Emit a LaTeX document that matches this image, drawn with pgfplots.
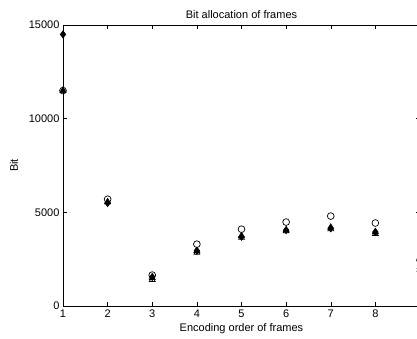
\documentclass[border=0pt]{standalone}
\usepackage{pgfplots}
\pgfplotsset{compat=1.18}
\usepackage{fontspec}
\setmainfont{Liberation Sans}
\usetikzlibrary{calc}
\begin{document}
\begin{tikzpicture}[font=\fontsize{11}{13}\selectfont]
\begin{axis}[name=ax,
  scale only axis, width=357pt, height=281pt,
  xmin=1, xmax=9, ymin=0, ymax=15000,
  xtick={1,2,...,9}, xticklabels={1,2,3,4,5,6,7,8,{}},
  ytick={0,5000,10000,15000},
  scaled ticks=false,
  /pgf/number format/assume math mode=true,
  /pgf/number format/1000 sep={},
  tick label style={font=\fontsize{11}{13}\selectfont},
  label style={font=\fontsize{11}{13}\selectfont},
  title style={font=\fontsize{11}{13}\selectfont, yshift=-3pt},
  tick align=inside, tick pos=both,
  major tick length=4pt,
  axis line style={line width=0.7pt},
  tick style={line width=0.5pt, black},
  title={Bit allocation of frames},
  xlabel={Encoding order of frames},
  ylabel={Bit},
  xlabel style={yshift=1pt},
  ylabel style={yshift=4pt},
  clip=false,
  every axis plot/.append style={only marks, black, line width=0.7pt},
]
\addplot[mark=o, mark size=3.4pt] coordinates {(1,11500) (2,5700) (3,1650) (4,3300) (5,4100) (6,4480) (7,4800) (8,4430) (9,2450)};
\addplot[mark=triangle, mark size=3.4pt] coordinates {(1,11500) (2,5550) (3,1400) (4,2850) (5,3650) (6,4000) (7,4100) (8,3850) (9,1950)};
\addplot[mark=triangle*, mark size=3.4pt] coordinates {(1,11500) (2,5550) (3,1500) (4,2950) (5,3750) (6,4050) (7,4200) (8,3950) (9,2100)};
\addplot[mark=diamond*, mark size=3.6pt] coordinates {(1,14500) (2,5500) (3,1550) (4,2950) (5,3700) (6,4050) (7,4150) (8,3950) (9,2150)};
\end{axis}
\pgfresetboundingbox
\path[use as bounding box] ($(ax.south west)+(-63pt,-33pt)$) rectangle ($(ax.south west)+(354pt,306pt)$);
\end{tikzpicture}
\end{document}
